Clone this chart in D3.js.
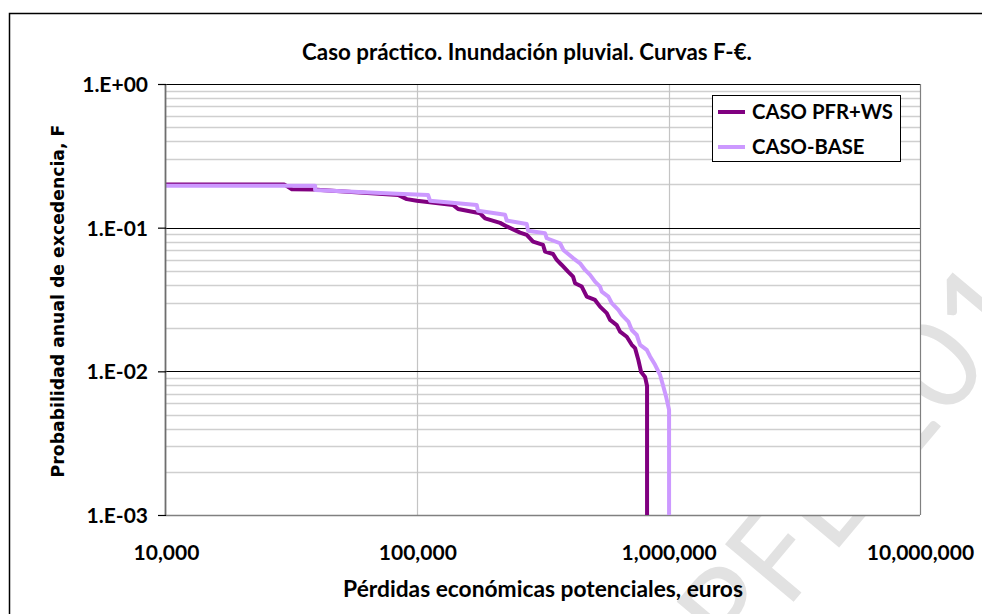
<!DOCTYPE html>
<html>
<head>
<meta charset="utf-8">
<script src="https://cdn.jsdelivr.net/npm/d3@7"></script>
<style>
  html, body { margin: 0; padding: 0; background: #fff; }
  svg { display: block; }
</style>
</head>
<body>
<svg id="chart" width="982" height="614"></svg>
<script>
// ---------------- data ----------------
const title = "Caso práctico. Inundación pluvial. Curvas F-€.";
const xTitle = "Pérdidas económicas potenciales, euros";
const yTitle = "Probabilidad anual de excedencia, F";
const seriesNames = ["CASO PFR+WS", "CASO-BASE"];
const watermark = "PFE 2010";

const xTickValues = [1e4, 1e5, 1e6, 1e7];
const xTickLabels = ["10,000", "100,000", "1,000,000", "10,000,000"];
const yTickValues = [1, 0.1, 0.01, 0.001];
const yTickLabels = ["1.E+00", "1.E-01", "1.E-02", "1.E-03"];

// CASO PFR+WS : losses (euros) and annual exceedance probability
const pfrLoss = [10000, 29500, 31700, 38500, 83800, 90800, 99500, 138700, 145200, 177600,
  186000, 213400, 226900, 256300, 272500, 288700, 316400, 322300, 346700, 358700,
  375500, 397800, 416500, 424200, 451000, 472200, 509400, 533300, 567100, 584500,
  621500, 640600, 681200, 713200, 735100, 757600, 776700, 805600, 820400, 820400];
const pfrProb = [0.200, 0.200, 0.185, 0.184, 0.169, 0.158, 0.154, 0.144, 0.135, 0.126,
  0.116, 0.108, 0.102, 0.0923, 0.0890, 0.0799, 0.0758, 0.0681, 0.0656, 0.0596,
  0.0550, 0.0494, 0.0456, 0.0410, 0.0389, 0.0331, 0.0314, 0.0282, 0.0254, 0.0228,
  0.0210, 0.0189, 0.0174, 0.0153, 0.0145, 0.0120, 0.0099, 0.00914, 0.00791, 0.001];

// CASO-BASE
const baseLoss = [10000, 39200, 39200, 83000, 110300, 112300, 172300, 174400, 223400, 226900,
  272500, 275800, 322300, 327300, 369700, 381000, 417600, 444000, 464900, 486700,
  509400, 533300, 541700, 575500, 593700, 630500, 650600, 691000, 713200, 746500,
  769500, 818100, 843300, 882900, 924500, 952900, 976500, 1003700, 1003700];
const baseProb = [0.196, 0.196, 0.183, 0.172, 0.169, 0.154, 0.144, 0.131, 0.123, 0.112,
  0.106, 0.0953, 0.0914, 0.0844, 0.0779, 0.0700, 0.0612, 0.0565, 0.0508, 0.0469,
  0.0421, 0.0389, 0.0359, 0.0331, 0.0298, 0.0268, 0.0247, 0.0222, 0.0194, 0.0179,
  0.0153, 0.0141, 0.0127, 0.0111, 0.00944, 0.00782, 0.00667, 0.00539, 0.001];

const seriesColors = ["#800080", "#CC99FF"];

// ---------------- layout ----------------
const W = 982, H = 614;
const plot = { left: 166, top: 84, right: 920, bottom: 515 };
const tickFont = "Lato, 'Open Sans', sans-serif";

const svg = d3.select("#chart");

// watermark (behind everything)
svg.append("text")
  .attr("transform", "translate(738,668) rotate(-50)")
  .attr("font-family", "Lato, sans-serif")
  .attr("font-size", 125)
  .attr("font-weight", 400)
  .attr("fill", "#e2e2e2")
  .text(watermark);

// outer chart frame
svg.append("rect")
  .attr("x", 9.5).attr("y", 13.5)
  .attr("width", W + 20).attr("height", H + 20)
  .attr("fill", "none")
  .attr("stroke", "#000").attr("stroke-width", 1.5);

const x = d3.scaleLog().domain([1e4, 1e7]).range([plot.left, plot.right]);
const y = d3.scaleLog().domain([1e-3, 1]).range([plot.bottom, plot.top]);

// plot area background
svg.append("rect")
  .attr("x", plot.left).attr("y", plot.top)
  .attr("width", plot.right - plot.left).attr("height", plot.bottom - plot.top)
  .attr("fill", "#fff");

// minor horizontal gridlines
const minor = [];
for (let d = -3; d < 0; d++) for (let m = 2; m <= 9; m++) minor.push(m * Math.pow(10, d));
svg.append("g").selectAll("line").data(minor).join("line")
  .attr("x1", plot.left).attr("x2", plot.right)
  .attr("y1", d => Math.round(y(d)) + 0.5).attr("y2", d => Math.round(y(d)) + 0.5)
  .attr("stroke", "#cfcfcf").attr("stroke-width", 1.5);

// vertical gridlines at decades
svg.append("g").selectAll("line").data(xTickValues.slice(1, -1)).join("line")
  .attr("x1", d => Math.round(x(d)) + 0.5).attr("x2", d => Math.round(x(d)) + 0.5)
  .attr("y1", plot.top).attr("y2", plot.bottom)
  .attr("stroke", "#c4c4c4").attr("stroke-width", 1.2);

// major horizontal gridlines (black)
svg.append("g").selectAll("line").data(yTickValues.slice(0, -1)).join("line")
  .attr("x1", plot.left).attr("x2", plot.right)
  .attr("y1", d => Math.round(y(d)) + 0.5).attr("y2", d => Math.round(y(d)) + 0.5)
  .attr("stroke", "#000").attr("stroke-width", 1.2);

// right & bottom border
svg.append("line").attr("x1", plot.right + 0.5).attr("x2", plot.right + 0.5)
  .attr("y1", plot.top).attr("y2", plot.bottom).attr("stroke", "#808080").attr("stroke-width", 1.2);
svg.append("line").attr("x1", plot.left).attr("x2", plot.right)
  .attr("y1", plot.bottom + 0.5).attr("y2", plot.bottom + 0.5).attr("stroke", "#808080").attr("stroke-width", 1.5);

// series
svg.append("clipPath").attr("id", "clip").append("rect")
  .attr("x", plot.left).attr("y", plot.top - 2)
  .attr("width", plot.right - plot.left).attr("height", plot.bottom - plot.top + 2);

const line = d3.line().x(d => x(d[0])).y(d => y(d[1]));
const series = [
  d3.zip(pfrLoss, pfrProb),
  d3.zip(baseLoss, baseProb)
];
const gS = svg.append("g").attr("clip-path", "url(#clip)");
series.forEach((s, i) => {
  gS.append("path").datum(s)
    .attr("d", line)
    .attr("fill", "none")
    .attr("stroke", seriesColors[i])
    .attr("stroke-width", 4)
    .attr("stroke-linejoin", "round");
});

// left axis line + ticks
svg.append("line").attr("x1", plot.left - 0.5).attr("x2", plot.left - 0.5)
  .attr("y1", plot.top).attr("y2", plot.bottom + 1).attr("stroke", "#6e6e6e").attr("stroke-width", 1.8);
const yAxis = d3.axisLeft(y).tickValues(yTickValues)
  .tickFormat((d, i) => yTickLabels[i]).tickSize(8).tickPadding(10);
const gy = svg.append("g").attr("transform", `translate(${plot.left},0)`).call(yAxis);
gy.select(".domain").remove();
gy.selectAll(".tick line").attr("stroke", "#000").attr("stroke-width", 1.2);
gy.selectAll(".tick text")
  .attr("font-family", tickFont).attr("font-weight", 700).attr("font-size", 21)
  .attr("fill", "#000").attr("dy", "0.36em");

// bottom axis labels (no tick marks)
const xAxis = d3.axisBottom(x).tickValues(xTickValues)
  .tickFormat((d, i) => xTickLabels[i]).tickSize(0).tickPadding(30);
const gx = svg.append("g").attr("transform", `translate(0,${plot.bottom})`).call(xAxis);
gx.select(".domain").remove();
gx.selectAll(".tick text")
  .attr("font-family", tickFont).attr("font-weight", 700).attr("font-size", 21)
  .attr("fill", "#000");

// helper to fit text to measured width
function fit(sel, target) {
  const w = sel.node().getComputedTextLength();
  const fs = parseFloat(sel.attr("font-size"));
  sel.attr("font-size", (fs * target / w).toFixed(2));
}

// title
const t = svg.append("text")
  .attr("x", 527).attr("y", 60)
  .attr("text-anchor", "middle")
  .attr("font-family", tickFont).attr("font-weight", 700).attr("font-size", 18)
  .attr("fill", "#000").text(title);
fit(t, 450);

// x title
const xt = svg.append("text")
  .attr("x", 543).attr("y", 597)
  .attr("text-anchor", "middle")
  .attr("font-family", tickFont).attr("font-weight", 700).attr("font-size", 18)
  .attr("fill", "#000").text(xTitle);
fit(xt, 400);

// y title
const yt = svg.append("text")
  .attr("transform", "translate(64,301) rotate(-90)")
  .attr("text-anchor", "middle")
  .attr("font-family", "'DejaVu Sans', Verdana, sans-serif").attr("font-weight", 700).attr("font-size", 15)
  .attr("fill", "#000").text(yTitle);
fit(yt, 353);

// legend
const lg = svg.append("g");
lg.append("rect")
  .attr("x", 712.5).attr("y", 95.5).attr("width", 188).attr("height", 66)
  .attr("fill", "#fff").attr("stroke", "#000").attr("stroke-width", 1);
const legY = [112, 147];
seriesNames.forEach((n, i) => {
  lg.append("line").attr("x1", 718).attr("x2", 745)
    .attr("y1", legY[i]).attr("y2", legY[i])
    .attr("stroke", seriesColors[i]).attr("stroke-width", 4);
  const tx = lg.append("text").attr("x", 752).attr("y", legY[i]).attr("dy", "0.36em")
    .attr("font-family", tickFont).attr("font-weight", 700).attr("font-size", 19)
    .attr("fill", "#000").text(n);
  if (i === 0) fit(tx, 141);
});
const lfs = lg.select("text").attr("font-size");
lg.selectAll("text").attr("font-size", lfs);
</script>
</body>
</html>
